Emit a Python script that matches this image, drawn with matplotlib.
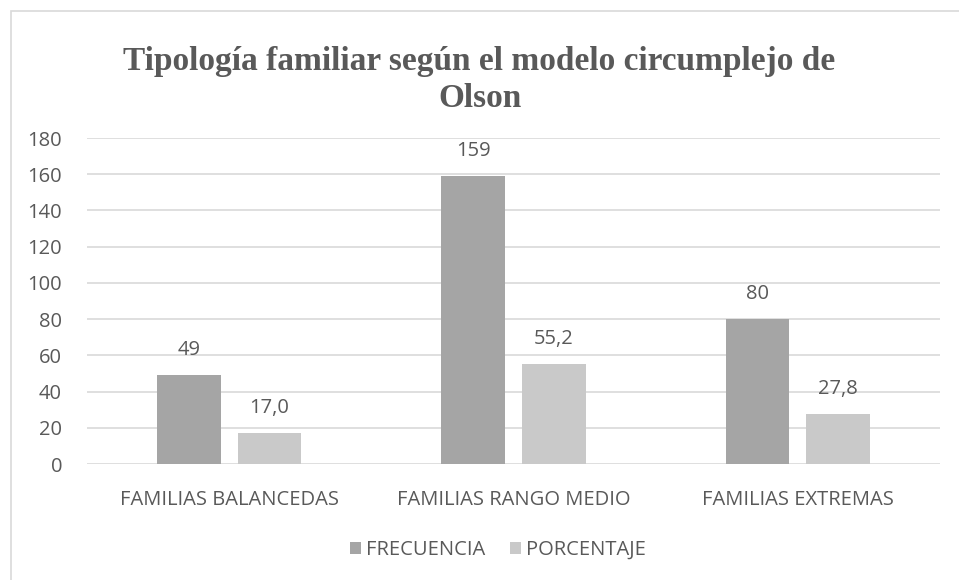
import numpy as np
import matplotlib
matplotlib.use('Agg')
import matplotlib.pyplot as plt
from matplotlib.patches import Rectangle

categorias = ['FAMILIAS BALANCEDAS', 'FAMILIAS RANGO MEDIO', 'FAMILIAS EXTREMAS']
frecuencia = [49, 159, 80]
porcentaje = [17.0, 55.2, 27.8]
series = ['FRECUENCIA', 'PORCENTAJE']
yticks = [0, 20, 40, 60, 80, 100, 120, 140, 160, 180]

txt = '#595959'
c_frec = '#A5A5A5'
c_pct = '#C9C9C9'

plt.rcParams['font.family'] = ['Open Sans', 'DejaVu Sans']

fig = plt.figure(figsize=(9.59, 5.80), dpi=100)
fig.patches.append(Rectangle((11/959, -0.01), 1.0, 1 - 11/580 + 0.01, transform=fig.transFigure,
                             fill=False, edgecolor='#D9D9D9', linewidth=1.2))

ax = fig.add_axes([87/959, 1 - 464/580, 853/959, (464 - 138)/580])

x = np.arange(len(categorias))
w = 64 / 285.0
gap = 17 / 285.0
b1 = ax.bar(x - (w + gap) / 2, frecuencia, w, color=c_frec, label=series[0], zorder=3)
b2 = ax.bar(x + (w + gap) / 2, porcentaje, w, color=c_pct, label=series[1], zorder=3)

for r, v in zip(b1, frecuencia):
    ax.annotate(str(v), (r.get_x() + r.get_width() / 2, v), xytext=(0, 18),
                textcoords='offset points', ha='center', va='center', fontsize=14.5, color=txt)
for r, v in zip(b2, porcentaje):
    ax.annotate(('%.1f' % v).replace('.', ','), (r.get_x() + r.get_width() / 2, v), xytext=(0, 18),
                textcoords='offset points', ha='center', va='center', fontsize=14.5, color=txt)

ax.set_xlim(-0.5, 2.5)
ax.set_ylim(0, 180)
ax.set_yticks(yticks)
ax.set_xticks(x)
ax.set_xticklabels(categorias)
ax.tick_params(axis='both', length=0, labelsize=14.5, labelcolor=txt)
ax.tick_params(axis='x', pad=19)
ax.tick_params(axis='y', pad=18)
ax.grid(axis='y', color='#D9D9D9', linewidth=1.2, zorder=0)
for s in ax.spines.values():
    s.set_visible(False)

fig.text(0.5, 1 - 80/580, 'Tipología familiar según el modelo circumplejo de\nOlson',
         ha='center', va='center', fontsize=24, fontweight='bold', color=txt,
         family='Liberation Serif', linespacing=1.25)

fig.legend(handles=[b1, b2], labels=series, loc='center', bbox_to_anchor=(498/959, 1 - 550/580),
           ncol=2, frameon=False, fontsize=14.5, labelcolor=txt, handlelength=0.55, handleheight=0.55,
           columnspacing=1.2, handletextpad=0.25)

fig.savefig('out.png', dpi=100)
